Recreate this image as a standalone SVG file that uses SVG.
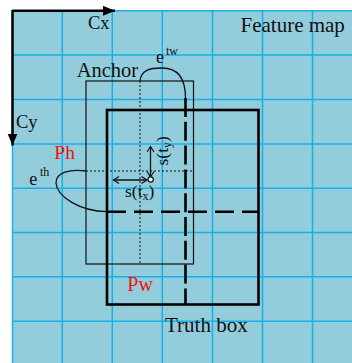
<svg xmlns="http://www.w3.org/2000/svg" width="352" height="363" viewBox="0 0 352 363">
  <defs>
    <style>
      .grid { stroke: #16B0EC; stroke-width: 1.5; fill: none; }
      .txt { font-family: "Liberation Serif", "Times New Roman", serif; fill: #111; }
      .red { fill: #F01010; }
      .thin { stroke: #111; stroke-width: 1.2; fill: none; }
      .thick { stroke: #000; stroke-width: 2.6; fill: none; }
      .dash { stroke: #000; stroke-width: 2.6; fill: none; }
      .dot { stroke: #111; stroke-width: 1; stroke-dasharray: 2 2; fill: none; }
      .curve { stroke: #111; stroke-width: 1.3; fill: none; }
      .arr { stroke: #111; stroke-width: 1.3; fill: none; }
    </style>
    <marker id="head" markerWidth="10" markerHeight="10" refX="6" refY="4" orient="auto-start-reverse" markerUnits="userSpaceOnUse">
      <path d="M0.5,0.5 L6,4 L0.5,7.5" fill="none" stroke="#111" stroke-width="1.2"/>
    </marker>
    <marker id="axisHead" markerWidth="14" markerHeight="12" refX="12" refY="5" orient="auto" markerUnits="userSpaceOnUse">
      <path d="M0,0 L12,5 L0,10 Z" fill="#000"/>
    </marker>
  </defs>

  <!-- feature map background -->
  <rect x="12" y="10.5" width="340" height="352.5" fill="#93CDDB"/>

  <!-- grid -->
  <g id="grid" class="grid">
    <path d="M62.3,10.5 V363 M112.3,10.5 V363 M162.3,10.5 V363 M212.5,10.5 V363 M262.5,10.5 V363 M312.5,10.5 V363 M12.5,10.5 V363"/>
    <path d="M12,10.8 H352 M12,55 H352 M12,99.5 H352 M12,144 H352 M12,188.3 H352 M12,232.6 H352 M12,276.8 H352 M12,321.2 H352"/>
  </g>

  <!-- axes -->
  <g id="axes">
    <path d="M12.5,10.8 H115" stroke="#000" stroke-width="2.5" fill="none" marker-end="url(#axisHead)"/>
    <path d="M12.5,10 V145.5" stroke="#000" stroke-width="2.5" fill="none" marker-end="url(#axisHead)"/>
    <text class="txt" x="88" y="29.3" font-size="18.5">Cx</text>
    <text class="txt" x="16" y="128.4" font-size="18.5">Cy</text>
  </g>

  <text id="feature-map" class="txt" x="240.5" y="31.7" font-size="21">Feature map</text>

  <!-- anchor box -->
  <g id="anchor">
    <rect class="thin" x="86" y="81" width="107.5" height="183"/>
    <path class="dot" d="M140,81 V264"/>
    <path class="dot" d="M86,171 H193.5"/>
    <text class="txt" x="76.7" y="76.7" font-size="20.5">Anchor</text>
  </g>

  <!-- truth box -->
  <g id="truth-box">
    <rect class="thick" x="107" y="110" width="151.5" height="194.5"/>
    <path class="dash" d="M107,211.7 H258.5" stroke-dasharray="19 8"/>
    <path class="dash" d="M185.5,98 V304.5" stroke-dasharray="19 4.8"/>
    <text class="txt" x="165" y="331.7" font-size="21">Truth box</text>
  </g>

  <!-- offsets -->
  <g id="offsets">
    <path class="arr" d="M113.5,180 H147" marker-start="url(#head)" marker-end="url(#head)"/>
    <path class="arr" d="M150.5,146.5 V177" marker-start="url(#head)" marker-end="url(#head)"/>
    <circle cx="150.7" cy="179.5" r="2.6" fill="#fff" stroke="#111" stroke-width="1.2"/>
    <text class="txt" x="125" y="196.5" font-size="17.5">s(t<tspan font-size="12" dy="3">x</tspan><tspan dy="-3">)</tspan></text>
    <text class="txt" transform="translate(167.5,165.5) rotate(-90)" font-size="17.5">s(t<tspan font-size="12" dy="3">y</tspan><tspan dy="-3">)</tspan></text>
  </g>

  <!-- scale curves -->
  <g id="scale-w">
    <path class="curve" d="M140,81 C141,70 150,68 162,68 C176,68 185.5,76 185.5,98"/>
    <text class="txt" x="156" y="63.3" font-size="18">e</text>
    <text class="txt" x="166" y="55" font-size="12">tw</text>
  </g>
  <g id="scale-h">
    <path class="curve" d="M86,171 C70,169 56,172 56,183 C57,197 80,211 107,211.7"/>
    <text class="txt" x="29.3" y="185" font-size="18">e</text>
    <text class="txt" x="40" y="175.7" font-size="12">th</text>
  </g>

  <text id="ph" class="txt red" x="54.3" y="159.3" font-size="19.5">Ph</text>
  <text id="pw" class="txt red" x="127.3" y="290.7" font-size="20">Pw</text>
</svg>
